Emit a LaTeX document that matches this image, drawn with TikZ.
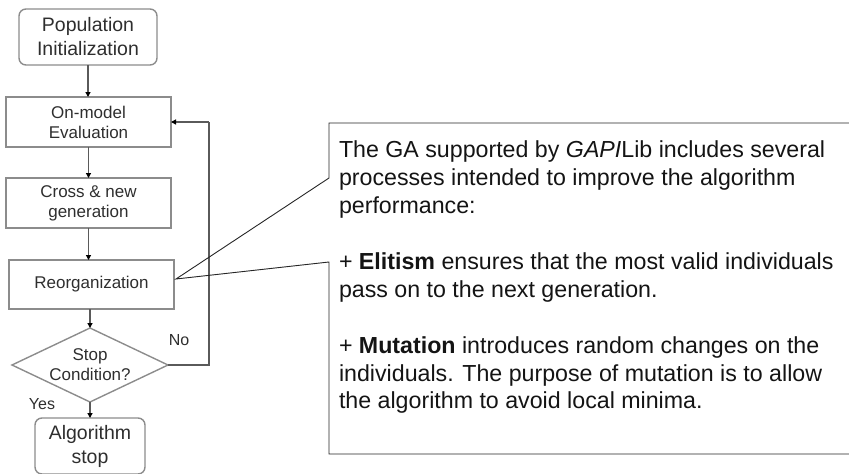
\documentclass[tikz,border=0pt]{standalone}
\usepackage{fontspec}
\setmainfont{Liberation Sans}
\usetikzlibrary{arrows.meta,shapes.geometric}
\definecolor{boxline}{HTML}{8C8C8C}
\definecolor{flowline}{HTML}{5A5A5A}
\definecolor{flowtext}{HTML}{2E2E2E}
\begin{document}
\begin{tikzpicture}[x=1pt,y=-1pt,
  every node/.style={inner sep=0pt, outer sep=0pt},
  roundbox/.style={draw=boxline, line width=1.4pt, rounded corners=7pt, align=center,
    text=flowtext, font=\fontsize{19.5}{24}\selectfont},
  procbox/.style={draw=boxline, line width=1.4pt, align=center,
    text=flowtext, font=\fontsize{17}{20}\selectfont},
  decision/.style={draw=boxline, line width=1.4pt, diamond, aspect=2.1, align=center,
    text=flowtext, font=\fontsize{17}{20}\selectfont},
  flowarrow/.style={draw=flowline, line width=1.2pt, -{Triangle[length=5pt,width=5pt,color=black]}},
  flowline/.style={draw=flowline, line width=1.2pt},
  looptext/.style={text=flowtext, font=\fontsize{16}{19}\selectfont},
  callout/.style={draw=black!85, line width=0.9pt},
]
\useasboundingbox (0,0) rectangle (849,474);

% flowchart
\node[roundbox, minimum width=138pt, minimum height=56pt] (pop) at (88,37) {Population\\Initialization};
\node[procbox, minimum width=165pt, minimum height=50pt] (eval) at (88.5,122) {On-model\\Evaluation};
\node[procbox, minimum width=165pt, minimum height=50pt] (cross) at (88.5,203) {Cross \& new\\generation};
\node[procbox, minimum width=165pt, minimum height=49pt] (reorg) at (91.5,284.5) {Reorganization};
\node[decision, minimum width=156pt, minimum height=74pt] (stopcond) at (90,365) {Stop\\Condition?};
\node[roundbox, minimum width=110pt, minimum height=56pt] (halt) at (90,446) {Algorithm\\stop};

% connectors
\draw[flowarrow] (pop.south) -- (pop.south |- eval.north);
\draw[flowarrow] (eval.south) -- (eval.south |- cross.north);
\draw[flowarrow] (cross.south) -- (cross.south |- reorg.north);
\draw[flowarrow] (stopcond.north |- reorg.south) -- (stopcond.north);
\draw[flowarrow] (stopcond.south) -- (halt.north);
\coordinate (loopx) at (209,365);
\draw[flowline] (stopcond.east) -- (loopx) -- (loopx |- eval.east);
\draw[flowarrow] (loopx |- eval.east) -- (eval.east);

\node[looptext] (no) at (179,340) {No};
\node[looptext] (yes) at (42,404) {Yes};

% callout
\coordinate (tip) at (176,279);
\draw[callout] (849,123) -- (329,123) -- (329,178) -- (tip) -- (329,262) -- (329,454) -- (849,454);
\node[anchor=north west, align=left, text=black!92,
      font=\fontsize{23.2}{27.9}\selectfont] (note) at (339,141)
  {The GA supported by \textit{GAPI}Lib includes several\\
   processes intended to improve the algorithm\\
   performance:\\[27.9pt]
   + \textbf{Elitism} ensures that the most valid individuals\\
   pass on to the next generation.\\[27.9pt]
   + \textbf{Mutation} introduces random changes on the\\
   individuals. The purpose of mutation is to allow\\
   the algorithm to avoid local minima.};
\end{tikzpicture}
\end{document}
